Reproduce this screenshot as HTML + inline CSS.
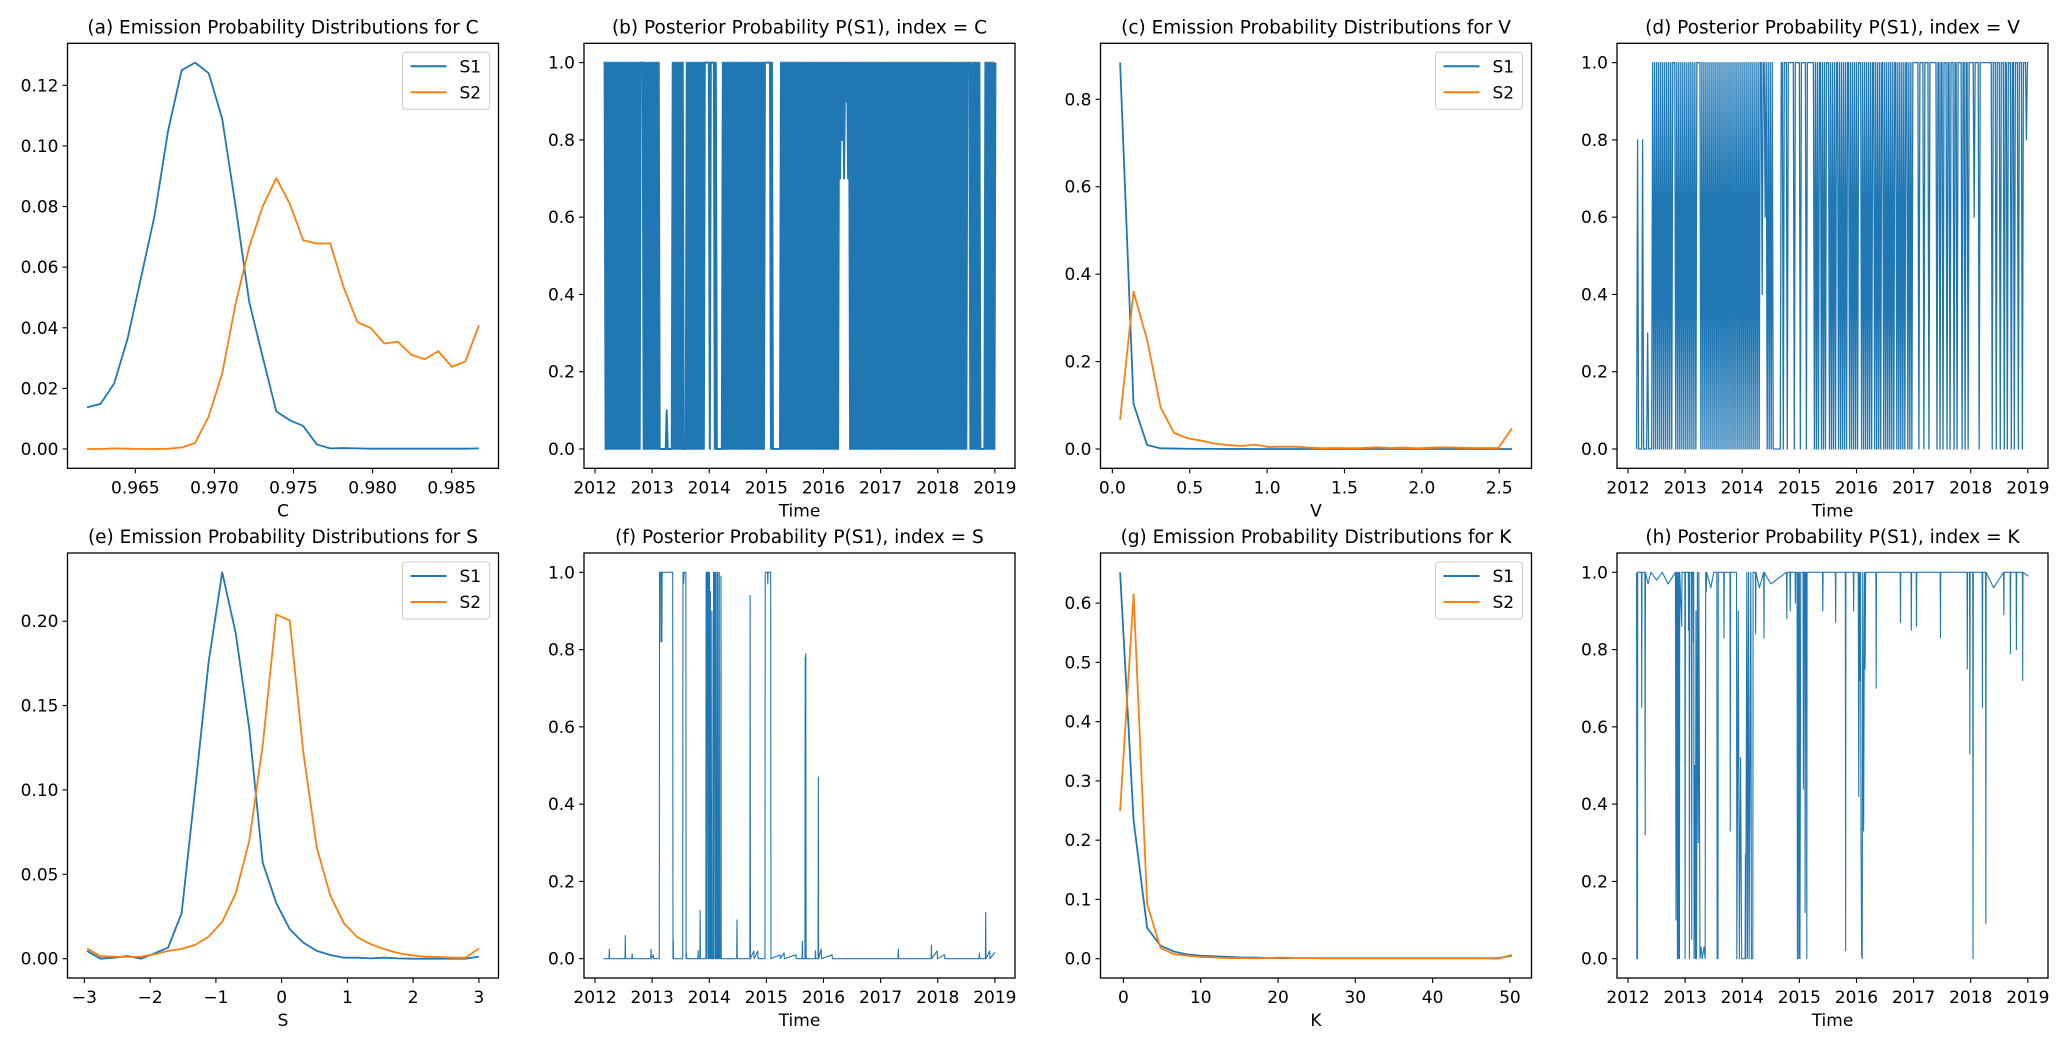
<!DOCTYPE html>
<html><head><meta charset="utf-8">
<style>
html,body{margin:0;padding:0;background:#fff;}
svg{display:block;}
text{font-family:"DejaVu Sans","Liberation Sans",sans-serif;fill:#000;}
</style></head>
<body>
<svg id="fig" width="2067" height="1046" viewBox="0 0 2067 1046" xmlns="http://www.w3.org/2000/svg"></svg>
<script>
// ---------- (a) emission C ----------
const aX=[0.96195,0.96280,0.96366,0.96451,0.96537,0.96622,0.96707,0.96793,0.96878,0.96964,0.97049,0.97134,0.97220,0.97305,0.97391,0.97476,0.97561,0.97647,0.97732,0.97818,0.97903,0.97988,0.98074,0.98159,0.98245,0.98330,0.98415,0.98501,0.98586,0.98672];
const aS1=[0.01375,0.0149,0.0216,0.0364,0.0568,0.0771,0.105,0.125,0.1275,0.124,0.109,0.080,0.0485,0.0304,0.0124,0.0095,0.0076,0.0015,0.0002,0.0003,0.0002,0.0001,0.0001,0.0001,0.0001,0.0001,0.0001,0.0001,0.0001,0.0002];
const aS2=[0,0,0.0002,0.0001,0,0,0.0001,0.0005,0.002,0.0108,0.0249,0.048,0.0667,0.080,0.0894,0.081,0.0689,0.0678,0.0678,0.0532,0.0419,0.0399,0.0348,0.0354,0.0311,0.0296,0.0323,0.0271,0.0289,0.0408];
const aXTicks=[0.965,0.970,0.975,0.980,0.985];
const aYTicks=[0,0.02,0.04,0.06,0.08,0.10,0.12];
// ---------- (c) emission V ----------
const cX=[0.050,0.137,0.225,0.312,0.399,0.487,0.574,0.661,0.748,0.836,0.923,1.010,1.098,1.185,1.272,1.360,1.447,1.534,1.621,1.709,1.796,1.883,1.971,2.058,2.145,2.233,2.320,2.407,2.494,2.582];
const cS1=[0.884,0.103,0.009,0.0015,0.001,0.0005,0.0003,0.0002,0.0001,0.0001,0,0,0,0,0,0,0,0,0,0,0,0,0,0,0,0,0,0,0,0];
const cS2=[0.067,0.36,0.249,0.095,0.0366,0.0244,0.019,0.0122,0.009,0.0069,0.0099,0.0046,0.0053,0.0053,0.003,0.0015,0.0023,0.0015,0.0023,0.0038,0.0023,0.003,0.0015,0.003,0.0038,0.003,0.0023,0.0023,0.0023,0.047];
const cXTicks=[0,0.5,1.0,1.5,2.0,2.5];
const cYTicks=[0,0.2,0.4,0.6,0.8];
// ---------- (e) emission S ----------
const eX=[-2.959,-2.754,-2.548,-2.343,-2.137,-1.932,-1.726,-1.521,-1.315,-1.110,-0.904,-0.699,-0.493,-0.288,-0.082,0.123,0.329,0.534,0.740,0.945,1.151,1.356,1.562,1.767,1.973,2.178,2.384,2.589,2.795,3.000];
const eS1=[0.0046,0,0.0006,0.0016,0,0.0032,0.0066,0.027,0.1006,0.176,0.229,0.193,0.1365,0.0569,0.033,0.0175,0.0095,0.0046,0.0022,0.0006,0.0006,0.0002,0.0006,0.0002,0,0,0,0,0,0.0012];
const eS2=[0.006,0.0014,0.0012,0.001,0.0012,0.0026,0.0046,0.0058,0.0082,0.0131,0.0219,0.0386,0.0698,0.1265,0.204,0.2005,0.1225,0.0658,0.0374,0.0211,0.0127,0.0086,0.0056,0.0034,0.002,0.0012,0.001,0.0006,0.0006,0.006];
const eXTicks=[-3,-2,-1,0,1,2,3];
const eYTicks=[0,0.05,0.10,0.15,0.20];
// ---------- (g) emission K ----------
const gX=[-0.43,1.32,3.07,4.81,6.56,8.31,10.06,11.81,13.55,15.30,17.05,18.80,20.55,22.29,24.04,25.79,27.54,29.29,31.03,32.78,34.53,36.28,38.03,39.77,41.52,43.27,45.02,46.77,48.51,50.26];
const gS1=[0.652,0.233,0.052,0.022,0.012,0.007,0.005,0.004,0.003,0.002,0.002,0.001,0.001,0.001,0.001,0.001,0.001,0.001,0.001,0.001,0.001,0.001,0.001,0.001,0.001,0.001,0.001,0.001,0.001,0.005];
const gS2=[0.249,0.615,0.092,0.018,0.0076,0.005,0.003,0.002,0.001,0.001,0.0005,0.001,0.002,0.001,0.001,0.0005,0.0005,0.0005,0.0005,0.0005,0.0005,0.0005,0.0005,0.0005,0.0005,0.0005,0.0005,0.0005,0,0.0065];
const gXTicks=[0,10,20,30,40,50];
const gYTicks=[0,0.1,0.2,0.3,0.4,0.5,0.6];
// ---------- posterior time series ----------
const timeTicks=[2012,2013,2014,2015,2016,2017,2018,2019];
const probTicks=[0,0.2,0.4,0.6,0.8,1.0];
const seriesStart=2012.15, seriesEnd=2019.01;
// (b) index = C : one char per sample, '0'-'9' = 0.0-0.9, 'a' = 1.0
const bCodes="aa"+"0a0a0a0a0a0a0a0a0a0a0a0a0a0a0a0a0a0"+"aaa"+"0a0a0a0a0a0a0a0a0"+"000000100000"+"a0a0a0a0a0a"+"000"+"a0a0a0a0a0a0a0a0a0a"+"aaaa"+"0a"+"aaa"+"0a"+"000000"+"a0a0a0a0a0a0a0a0a0a0a0a0a0a0a0a0a0a0a0a0a0a"+"aaaaa"+"0a0"+"0000000"+"a0a0a0a0a0a0a0a0a0a0a0a0a0a0a0a0a0a0a0a0a0a0a0a0a0a0a0a0a0"+"a7a8a7a9a7a"+"0a0a0a0a0a0a0a0a0a0a0a0a0a0a0a0a0a0a0a0a0a0a0a0a0a0a0a0a0a0a0a0a0a0a0a0a0a0a0a0a0a0a0a0a0a0a0a0a0a0a0a0a0a0a0a0a0a0a0"+"aaa"+"0a0a0a0a0a0"+"0000"+"a0a0a0a0a0a";
// (d) index = V
const dCodes="0800008000030000"+"a0a0a0a0a0a0a0a0a0a0a"+"aa"+"0a0a0a0a0a0a0a0a0a0a0"+"aaaa"+"0a0a0a0a0a0a0a0a0a0a0a0a0a0a0a0a0a0a0a0a0a0a0a0a0a0a0a0a0a0a"+"a4aa6a"+"0a0a0a"+"00000000"+"aa0aaa0aaaaaa0aaaaa0aaaaa0aa"+"aaaaa"+"0a0a0aa0a0a0aaa0a0a0a0aa0a0a0a0a0aa0a0a0a0a0aaa0a0a0a0a0a0aa0a0a0a0aa0a0a0a0a0a0aa0a0a0a0a0aa0a0a0a"+"aaaaa0aaaa0aaaa0aaaaaaa0"+"aa0aa0aaa0aa0aaa0aa0aaaa0aa0aa0aaa"+"aa6aaaa0aaaaaaaaaaa"+"a0aaa0aaa0aaa0aa0aaa0aa0aaa0aaa0aaa8aa";
// (f) index = S : [time, probability] breakpoints
const fSeries=[[2012.15,0],[2012.245,0],[2012.25,0.025],[2012.255,0],[2012.525,0],[2012.53,0.06],[2012.535,0],[2012.645,0],[2012.65,0.013],[2012.655,0],[2012.975,0],[2012.98,0.025],[2012.985,0],[2013.02,0.01],[2013.025,0],[2013.125,0],[2013.13,1],[2013.15,1],[2013.155,0.82],[2013.16,1],[2013.17,0.82],[2013.175,1],[2013.36,1],[2013.365,0],[2013.37,0.05],[2013.375,0],[2013.535,0],[2013.54,1],[2013.55,0.97],[2013.56,1],[2013.59,1],[2013.595,0],[2013.6,0.015],[2013.605,0],[2013.8,0],[2013.805,0.02],[2013.81,0],[2013.835,0],[2013.84,0.125],[2013.845,0],[2013.94,0],[2013.945,1],[2013.95,0],[2013.955,1],[2013.96,0],[2013.965,1],[2013.975,0.84],[2013.98,1],[2013.985,0],[2013.99,1],[2014.0,0],[2014.005,1],[2014.01,0],[2014.02,0.95],[2014.025,0],[2014.04,0],[2014.045,0.9],[2014.05,0],[2014.07,0],[2014.075,1],[2014.08,0],[2014.085,1],[2014.1,1],[2014.105,0],[2014.11,1],[2014.115,0],[2014.13,0],[2014.135,1],[2014.14,0],[2014.15,1],[2014.155,0],[2014.17,0],[2014.175,1],[2014.18,0],[2014.2,0],[2014.205,0.99],[2014.21,0],[2014.48,0],[2014.485,0.1],[2014.49,0],[2014.71,0],[2014.715,0.94],[2014.72,0],[2014.78,0.02],[2014.785,0],[2014.85,0.02],[2014.855,0],[2014.975,0],[2014.98,1],[2015.02,1],[2015.025,0.97],[2015.03,1],[2015.075,1],[2015.08,0],[2015.24,0.01],[2015.245,0],[2015.31,0.015],[2015.315,0],[2015.52,0.01],[2015.525,0],[2015.625,0],[2015.63,0.045],[2015.635,0],[2015.675,0],[2015.68,0.78],[2015.685,0],[2015.69,0.79],[2015.695,0.01],[2015.7,0],[2015.855,0],[2015.86,0.02],[2015.865,0],[2015.905,0],[2015.91,0.47],[2015.915,0],[2015.96,0.025],[2015.965,0],[2016.15,0.01],[2016.155,0],[2017.305,0],[2017.31,0.025],[2017.315,0],[2017.885,0],[2017.89,0.035],[2017.895,0],[2017.99,0.02],[2017.995,0],[2018.12,0.01],[2018.125,0],[2018.725,0],[2018.73,0.015],[2018.735,0],[2018.835,0],[2018.84,0.12],[2018.845,0],[2018.91,0.02],[2018.915,0],[2018.995,0.015],[2019.01,0.015]];
// (h) index = K : [time, probability] breakpoints
const hSeries=[[2012.15,1],[2012.155,0],[2012.165,0],[2012.17,1],[2012.235,1],[2012.24,0.65],[2012.245,1],[2012.295,1],[2012.30,0.32],[2012.305,1],[2012.35,0.97],[2012.4,1],[2012.5,0.98],[2012.6,1],[2012.7,0.97],[2012.83,1],[2012.84,0.1],[2012.85,1],[2012.865,0],[2012.87,1],[2012.885,0],[2012.89,1],[2012.90,0],[2012.905,1],[2012.94,0.86],[2012.945,1],[2012.995,1],[2013.0,0],[2013.005,1],[2013.055,1],[2013.06,0.85],[2013.07,1],[2013.075,0],[2013.08,1],[2013.11,1],[2013.115,0.05],[2013.12,1],[2013.14,1],[2013.145,0.82],[2013.15,1],[2013.156,0],[2013.17,0.5],[2013.18,0],[2013.19,0.9],[2013.2,0],[2013.215,1],[2013.23,0.3],[2013.24,1],[2013.26,0],[2013.28,0.03],[2013.30,0],[2013.33,0.03],[2013.35,0],[2013.36,1],[2013.37,0.95],[2013.375,1],[2013.45,0.96],[2013.5,1],[2013.555,1],[2013.56,0],[2013.575,0],[2013.58,1],[2013.675,1],[2013.68,0.83],[2013.685,1],[2013.785,1],[2013.79,0.33],[2013.795,1],[2013.9,1],[2013.905,0],[2013.93,0.9],[2013.95,0],[2013.97,0.52],[2013.99,0],[2014.0,0],[2014.05,0],[2014.055,0.27],[2014.06,0],[2014.08,1],[2014.09,0],[2014.11,1],[2014.12,0],[2014.15,1],[2014.16,0],[2014.185,0],[2014.19,1],[2014.23,1],[2014.235,0.84],[2014.24,1],[2014.3,0.96],[2014.375,1],[2014.38,0.83],[2014.385,1],[2014.5,0.97],[2014.775,1],[2014.78,0.88],[2014.785,1],[2014.835,1],[2014.84,0.9],[2014.845,1],[2014.925,1],[2014.93,0.92],[2014.935,1],[2014.96,1],[2014.965,0],[2014.98,1],[2014.99,0],[2015.0,1],[2015.01,0],[2015.025,1],[2015.065,1],[2015.07,0.44],[2015.08,1],[2015.095,1],[2015.1,0.12],[2015.11,1],[2015.125,1],[2015.13,0],[2015.135,1],[2015.405,1],[2015.41,0.9],[2015.415,1],[2015.63,1],[2015.635,0.87],[2015.64,1],[2015.805,1],[2015.81,0.02],[2015.815,1],[2015.945,1],[2015.95,0.9],[2015.955,1],[2016.03,1],[2016.04,0.42],[2016.05,1],[2016.06,0.72],[2016.07,1],[2016.08,0.3],[2016.09,0.01],[2016.1,0],[2016.11,1],[2016.125,0.33],[2016.14,1],[2016.15,0.75],[2016.16,1],[2016.34,1],[2016.345,0.7],[2016.35,1],[2016.765,1],[2016.77,0.87],[2016.775,1],[2016.955,1],[2016.96,0.85],[2016.965,1],[2017.045,1],[2017.05,0.86],[2017.055,1],[2017.465,1],[2017.47,0.83],[2017.475,1],[2017.935,1],[2017.94,0.75],[2017.945,1],[2017.98,1],[2017.985,0.53],[2017.99,1],[2018.035,1],[2018.04,0],[2018.045,1],[2018.2,1],[2018.205,0.65],[2018.21,1],[2018.26,1],[2018.265,0.09],[2018.27,1],[2018.4,0.96],[2018.575,1],[2018.58,0.89],[2018.585,1],[2018.69,1],[2018.695,0.79],[2018.7,1],[2018.795,1],[2018.8,0.8],[2018.805,1],[2018.905,1],[2018.91,0.72],[2018.915,1],[2019.01,0.99]];

const NS="http://www.w3.org/2000/svg";
const svg=document.getElementById('fig');
const C1="#1f77b4", C2="#ff7f0e";
const colL=[67.5,584,1100.5,1617], rowT=[43.3,553], AW=431, AH=425;

function mk(tag,attrs,parent){const e=document.createElementNS(NS,tag);for(const k in attrs)e.setAttribute(k,attrs[k]);(parent||svg).appendChild(e);return e;}
function decodeCodes(s){const v=[];for(const ch of s){v.push(ch==='a'?1:parseInt(ch,10)/10);}return v;}
function codesToTimes(n){const t=[];for(let i=0;i<n;i++)t.push(seriesStart+i*(seriesEnd-seriesStart)/(n-1));return t;}
function fmt(v,d){const s=Math.abs(v).toFixed(d);return (v<-1e-12?"\u2212":"")+s;}

function panel(o){
  const g=mk('g',{});
  
  
  const x0=colL[o.col], y0=rowT[o.row];
  let xmin=Infinity,xmax=-Infinity,ymin=Infinity,ymax=-Infinity;
  o.series.forEach(s=>{s.xs.forEach(v=>{xmin=Math.min(xmin,v);xmax=Math.max(xmax,v);});s.ys.forEach(v=>{ymin=Math.min(ymin,v);ymax=Math.max(ymax,v);});});
  const mx=(xmax-xmin)*0.05, my=(ymax-ymin)*0.05;
  xmin-=mx;xmax+=mx;ymin-=my;ymax+=my;
  const sx=v=>x0+(v-xmin)/(xmax-xmin)*AW;
  const sy=v=>y0+AH-(v-ymin)/(ymax-ymin)*AH;
  const clipId='clip'+o.name;
  const cp=mk('clipPath',{id:clipId},g);
  mk('rect',{x:x0,y:y0,width:AW,height:AH},cp);
  o.series.forEach(s=>{
    const pts=s.xs.map((x,i)=>sx(x).toFixed(2)+","+sy(s.ys[i]).toFixed(2)).join(" ");
    const pl=mk('polyline',{points:pts,fill:'none',stroke:s.color,'stroke-width':s.w,'stroke-linejoin':'round','clip-path':'url(#'+clipId+')'},g);
    
    
  });
  const fr=mk('rect',{x:x0,y:y0,width:AW,height:AH,fill:'none',stroke:'#000','stroke-width':1.3},g);
  
  
  o.xticks.forEach(t=>{
    const X=sx(t);
    mk('line',{x1:X,y1:y0+AH,x2:X,y2:y0+AH+5,stroke:'#000','stroke-width':1.1},g);
    const tx=mk('text',{x:X,y:y0+AH+25,'text-anchor':'middle','font-size':17},g);
    tx.textContent=o.fx(t);
    
    
  });
  o.yticks.forEach(t=>{
    const Y=sy(t);
    mk('line',{x1:x0-5,y1:Y,x2:x0,y2:Y,stroke:'#000','stroke-width':1.1},g);
    const tx=mk('text',{x:x0-9,y:Y+6,'text-anchor':'end','font-size':17},g);
    tx.textContent=o.fy(t);
    
    
  });
  const ti=mk('text',{x:x0+AW/2,y:y0-10,'text-anchor':'middle','font-size':18.5},g);
  ti.textContent=o.title;
  
  
  const xl=mk('text',{x:x0+AW/2,y:y0+AH+48,'text-anchor':'middle','font-size':17},g);
  xl.textContent=o.xlabel;
  
  
  if(o.legend){
    const lg=mk('g',{},g);
    
    
    const lx=x0+AW-9-87, ly=y0+9;
    mk('rect',{x:lx,y:ly,width:87,height:57,rx:3,fill:'#fff','fill-opacity':0.8,stroke:'#cccccc','stroke-width':1},lg);
    o.series.forEach((s,i)=>{
      const yy=ly+14+i*26;
      const le=mk('line',{x1:lx+8,y1:yy,x2:lx+44,y2:yy,stroke:s.color,'stroke-width':2},lg);
      
      
      const lt=mk('text',{x:lx+57,y:yy+6,'font-size':17},lg);
      lt.textContent=s.label;
      
      
    });
  }
}

function emis(name,col,row,title,xlabel,xs,s1,s2,xt,yt,fx,fy){
  panel({name,col,row,title,xlabel,xticks:xt,yticks:yt,fx,fy,legend:true,
    series:[{xs,ys:s1,color:C1,w:1.8,label:'S1',dn:'s1-line'},{xs,ys:s2,color:C2,w:1.8,label:'S2',dn:'s2-line'}]});
}
function post(name,col,row,title,xs,ys,w){
  panel({name,col,row,title,xlabel:'Time',xticks:timeTicks,yticks:probTicks,fx:t=>String(t),fy:t=>t.toFixed(1),legend:false,
    series:[{xs,ys,color:C1,w:w,label:'P(S1)',dn:'posterior-line'}]});
}

emis('panel-a',0,0,'(a) Emission Probability Distributions for C','C',aX,aS1,aS2,aXTicks,aYTicks,t=>t.toFixed(3),t=>t.toFixed(2));
const bV=decodeCodes(bCodes);
post('panel-b',1,0,'(b) Posterior Probability P(S1), index = C',codesToTimes(bV.length),bV,2.0);
emis('panel-c',2,0,'(c) Emission Probability Distributions for V','V',cX,cS1,cS2,cXTicks,cYTicks,t=>t.toFixed(1),t=>t.toFixed(1));
const dV=decodeCodes(dCodes);
post('panel-d',3,0,'(d) Posterior Probability P(S1), index = V',codesToTimes(dV.length),dV,1.3);
emis('panel-e',0,1,'(e) Emission Probability Distributions for S','S',eX,eS1,eS2,eXTicks,eYTicks,t=>fmt(t,0),t=>t.toFixed(2));
post('panel-f',1,1,'(f) Posterior Probability P(S1), index = S',fSeries.map(p=>p[0]),fSeries.map(p=>p[1]),1.1);
emis('panel-g',2,1,'(g) Emission Probability Distributions for K','K',gX,gS1,gS2,gXTicks,gYTicks,t=>String(t),t=>t.toFixed(1));
post('panel-h',3,1,'(h) Posterior Probability P(S1), index = K',hSeries.map(p=>p[0]),hSeries.map(p=>p[1]),1.1);
</script>
</body></html>
